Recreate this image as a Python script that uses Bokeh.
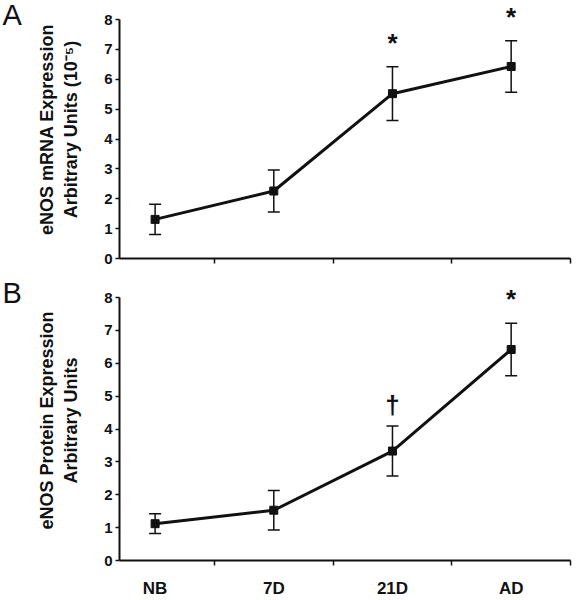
from bokeh.plotting import figure
from bokeh.layouts import column, row
from bokeh.models import (Range1d, FixedTicker, Whisker, TeeHead, ColumnDataSource)
from bokeh.core.properties import value
from bokeh.embed import file_html
from bokeh.resources import INLINE

categories = ["NB", "7D", "21D", "AD"]
mrna_mean = [1.31, 2.26, 5.52, 6.43]
mrna_err = [0.51, 0.70, 0.90, 0.86]
mrna_marks = ["", "", "*", "*"]
protein_mean = [1.12, 1.53, 3.33, 6.42]
protein_err = [0.30, 0.60, 0.76, 0.80]
protein_marks = ["", "", "\u2020", "*"]
panel_letters = ["A", "B"]
y_ticks = [0, 1, 2, 3, 4, 5, 6, 7, 8]

FONT = "Liberation Sans"
INK = "#111111"
MARK_OFFSET = {"*": -24, "\u2020": -21, "": 0}
LETTER_W = 30
TOTAL_H = 600
H_A, H_B = 280, 320


def letter_fig():
    # narrow full-height figure whose data units are pixels (y from top)
    f = figure(width=LETTER_W, height=TOTAL_H, output_backend="svg",
               toolbar_location=None, x_range=Range1d(0, LETTER_W),
               y_range=Range1d(TOTAL_H, 0), min_border=0,
               x_axis_type=None, y_axis_type=None, title=None)
    f.outline_line_color = None
    f.grid.visible = False
    f.text(x=[2, 2], y=[14, H_A + 12], text=panel_letters,
           text_align="left", text_baseline="alphabetic",
           text_font=value(FONT), text_font_size="29px", text_color=INK)
    return f


def panel(means, errs, marks, title, show_labels,
          width, height, left, right, bottom, y_end):
    xs = list(range(len(categories)))
    p = figure(width=width, height=height, output_backend="svg",
               toolbar_location=None, x_range=Range1d(-0.30, 3.5),
               y_range=Range1d(0, y_end), min_border_left=left,
               min_border_right=right, min_border_top=0,
               min_border_bottom=bottom)
    p.outline_line_color = None
    p.grid.visible = False
    p.background_fill_color = "white"
    p.border_fill_color = "white"

    # x axis
    xa = p.xaxis[0]
    xa.ticker = FixedTicker(ticks=xs, minor_ticks=[0.5, 1.5, 2.5, 3.5])
    xa.major_tick_out = 0
    xa.major_tick_in = 0
    xa.minor_tick_out = 5
    xa.minor_tick_in = 0
    xa.minor_tick_line_width = 1.5
    xa.minor_tick_line_color = INK
    xa.axis_line_width = 2
    xa.axis_line_color = INK
    if show_labels:
        xa.major_label_overrides = {i: c for i, c in enumerate(categories)}
        xa.major_label_text_font = FONT
        xa.major_label_text_font_style = "bold"
        xa.major_label_text_font_size = "17px"
        xa.major_label_text_color = INK
        xa.major_label_standoff = 13
    else:
        xa.major_label_overrides = {i: "" for i in xs}
        xa.major_label_text_font_size = "1px"

    # y axis
    ya = p.yaxis[0]
    ya.ticker = FixedTicker(ticks=y_ticks)
    ya.bounds = (0, 8)
    ya.minor_tick_line_color = None
    ya.major_tick_out = 4
    ya.major_tick_in = 0
    ya.major_tick_line_width = 1.5
    ya.major_tick_line_color = INK
    ya.axis_line_width = 2
    ya.axis_line_color = INK
    ya.major_label_text_font = FONT
    ya.major_label_text_font_style = "bold"
    ya.major_label_text_font_size = "15px"
    ya.major_label_text_color = INK
    ya.major_label_standoff = 3
    ya.axis_label = title
    ya.axis_label_text_font = FONT
    ya.axis_label_text_font_style = "bold"
    ya.axis_label_text_font_size = "18px"
    ya.axis_label_text_color = INK
    ya.axis_label_standoff = 20

    upper = [m + e for m, e in zip(means, errs)]
    lower = [m - e for m, e in zip(means, errs)]
    src = ColumnDataSource(dict(x=xs, y=means, upper=upper, lower=lower,
                                marks=marks,
                                yoff=[MARK_OFFSET[m] for m in marks]))
    w = Whisker(source=src, base="x", upper="upper", lower="lower",
                line_width=1.5, line_color=INK,
                upper_head=TeeHead(size=12, line_width=1.5, line_color=INK),
                lower_head=TeeHead(size=12, line_width=1.5, line_color=INK))
    p.add_layout(w)
    p.line("x", "y", source=src, line_width=3, line_color=INK)
    p.scatter("x", "y", source=src, marker="square", size=8,
              fill_color=INK, line_color=INK)
    p.text("x", "upper", text="marks", source=src, y_offset="yoff",
           text_align="center", text_baseline="alphabetic",
           text_font=value(FONT), text_font_style="bold",
           text_font_size="26px", text_color=INK)
    return p


pa = panel(mrna_mean, mrna_err, mrna_marks,
           "eNOS mRNA Expression\nArbitrary Units (10\u207b\u2075)",
           False, 576 - LETTER_W, H_A, 117 - LETTER_W, 6, 22, 8.64)
pb = panel(protein_mean, protein_err, protein_marks,
           "eNOS Protein Expression\nArbitrary Units",
           True, 576 - LETTER_W, H_B, 119 - LETTER_W, 4, 39, 8.52)

layout = row(letter_fig(), column(pa, pb, spacing=0), spacing=0)
open("out.html", "w").write(file_html(layout, INLINE))
